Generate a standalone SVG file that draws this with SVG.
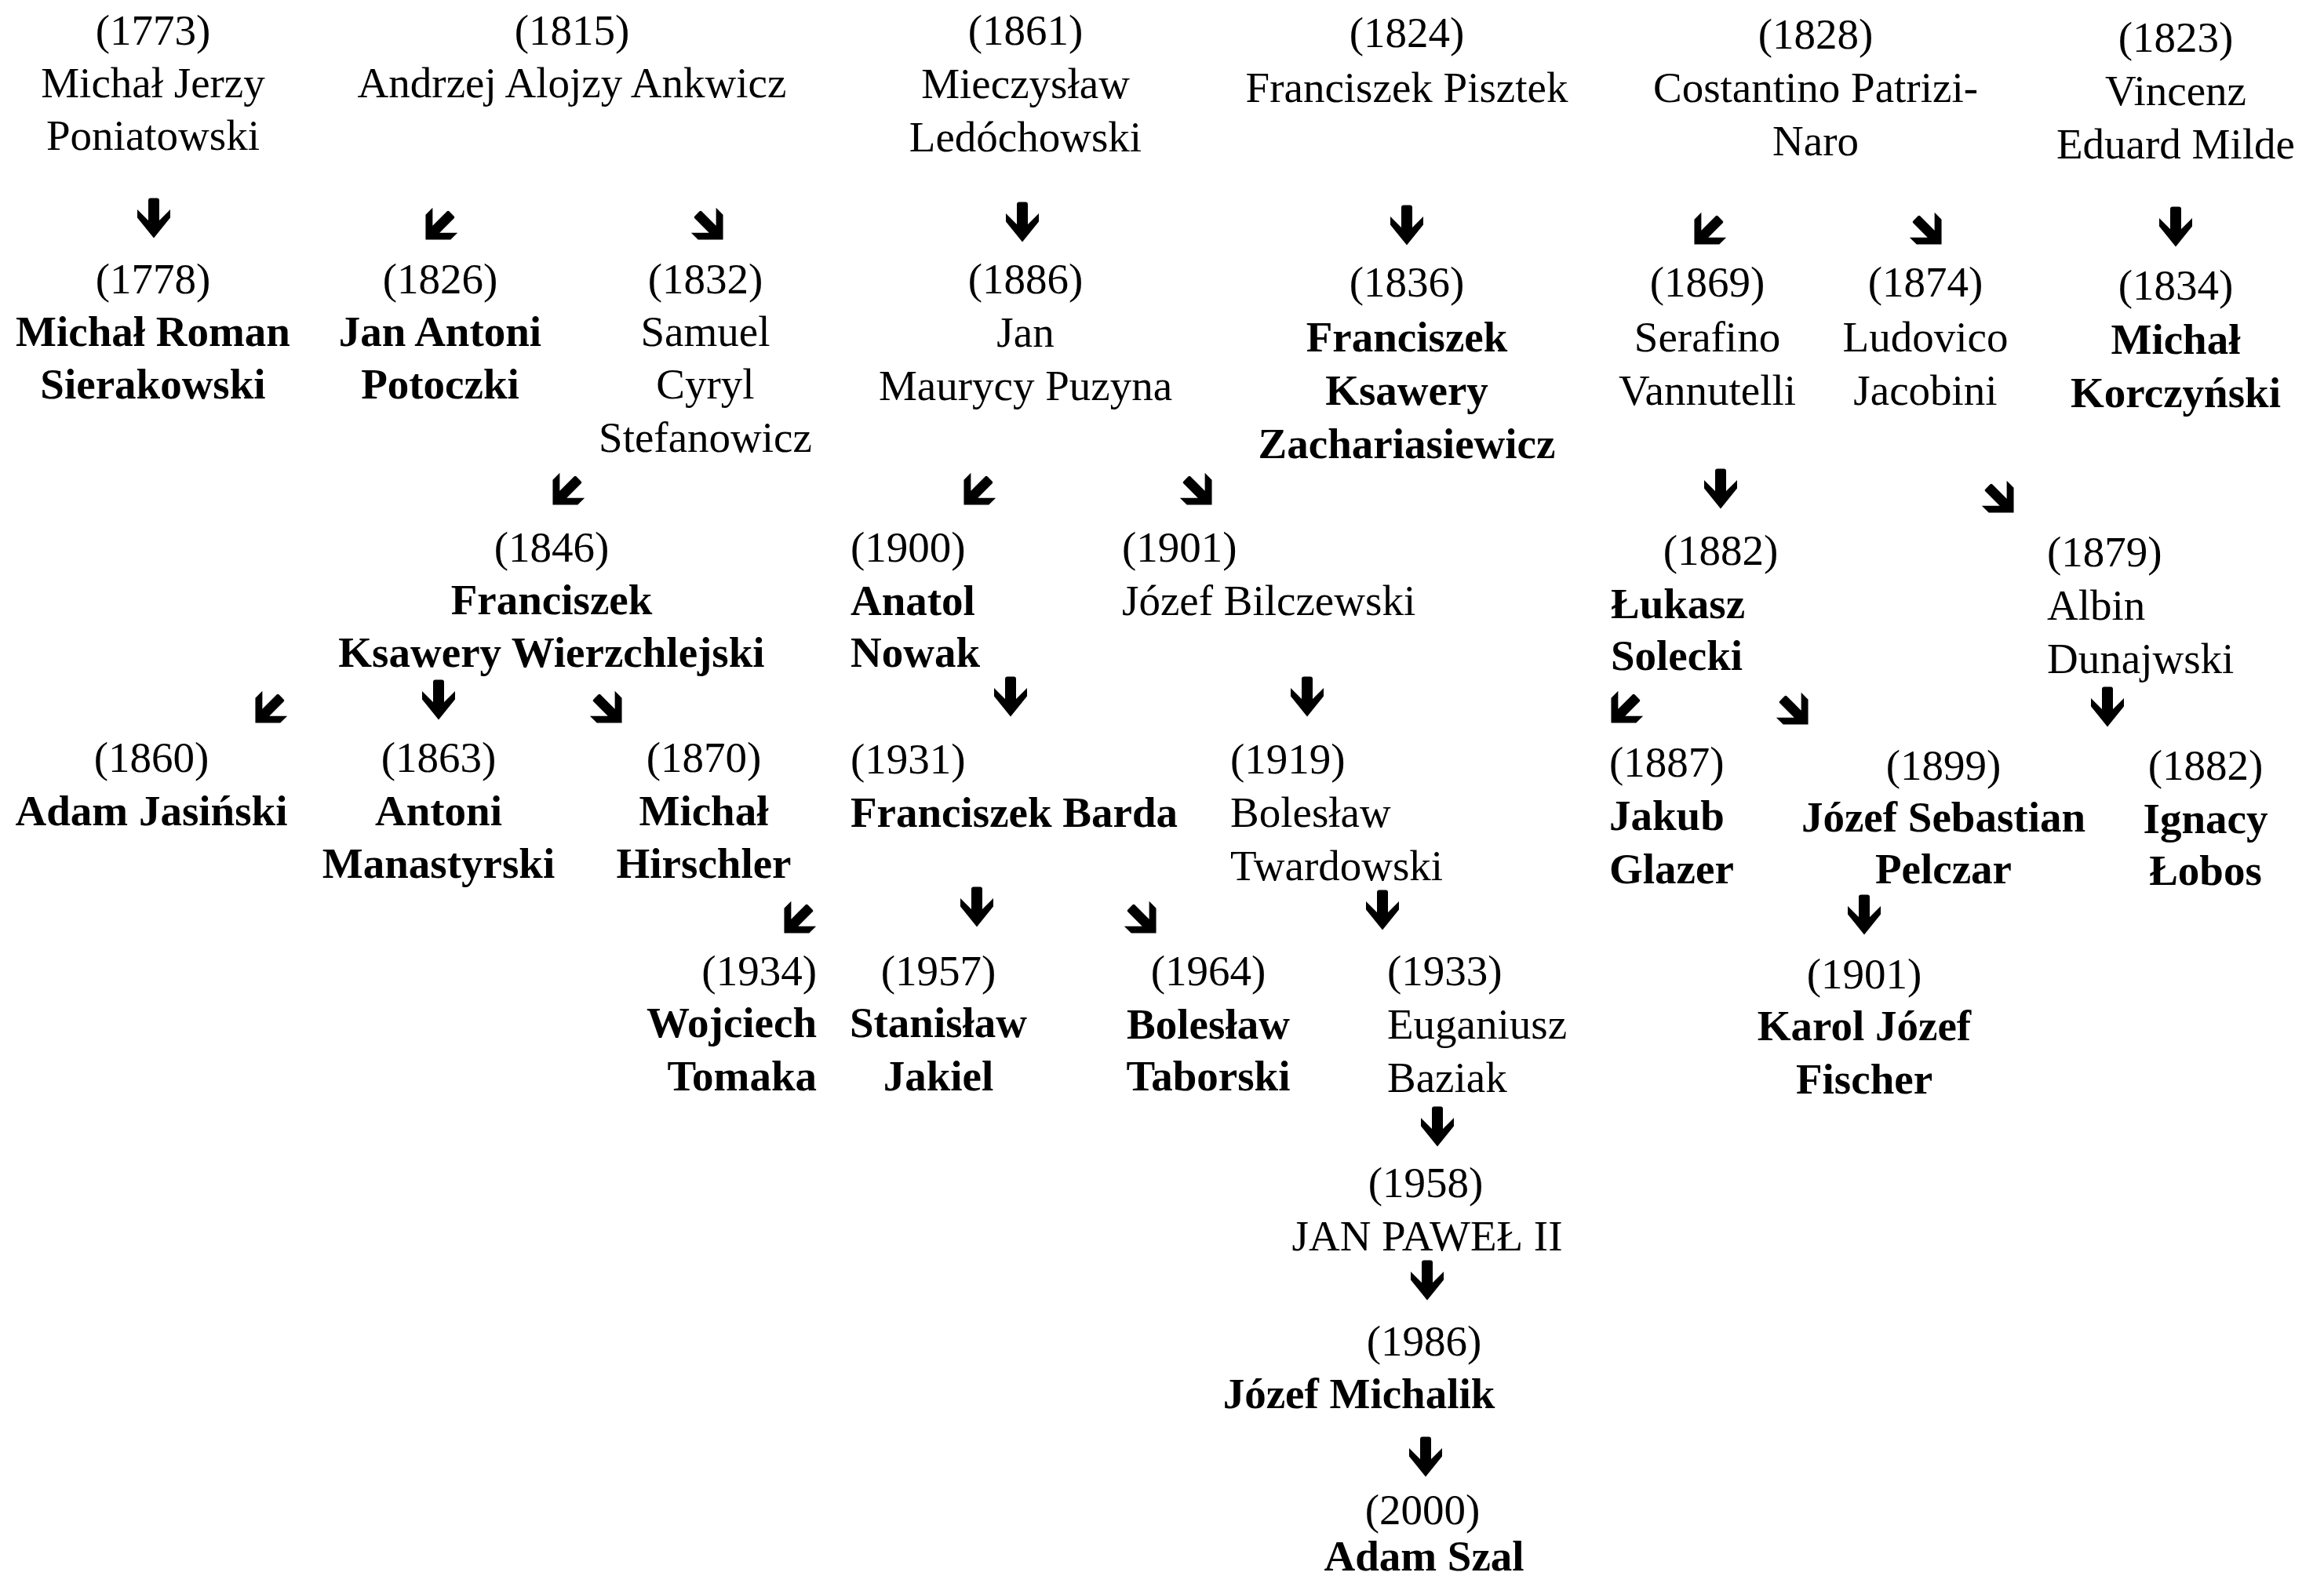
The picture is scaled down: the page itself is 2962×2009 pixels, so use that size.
<svg xmlns="http://www.w3.org/2000/svg" xmlns:xlink="http://www.w3.org/1999/xlink" width="2962" height="2009" viewBox="0 0 2962 2009">
<style>
text{font-family:"Liberation Serif","Times New Roman",serif;font-size:55px;fill:#000}
.b{font-weight:bold}
.m{text-anchor:middle}
.e{text-anchor:end}
</style>
<defs>
<path id="ad" d="M-7,-22.5 Q-7,-25.5 -4,-25.5 H4 Q7,-25.5 7,-22.5 V3 L21,-11 V-0.5 L0,25.5 L-21,-0.5 V-11 L-7,3 Z" fill="#000"/>
<path id="ag" d="M-7,-24 Q-7,-26 -5,-26 H5 Q7,-26 7,-24 V5 L25,-13 V1 L0,26 L-25,1 V-13 L-7,5 Z" fill="#000"/>
</defs>
<rect width="2962" height="2009" fill="#fff"/>

<g id="connectors">
<use xlink:href="#ad" transform="translate(196,278)"/>
<use xlink:href="#ad" transform="translate(559,892)"/>
<use xlink:href="#ad" transform="translate(1303,283)"/>
<use xlink:href="#ad" transform="translate(1793,287)"/>
<use xlink:href="#ad" transform="translate(2773,289)"/>
<use xlink:href="#ad" transform="translate(1288,888)"/>
<use xlink:href="#ad" transform="translate(1666,888)"/>
<use xlink:href="#ad" transform="translate(1245,1156)"/>
<use xlink:href="#ad" transform="translate(1762,1160)"/>
<use xlink:href="#ad" transform="translate(1832,1436)"/>
<use xlink:href="#ad" transform="translate(1819,1632)"/>
<use xlink:href="#ad" transform="translate(1817,1857)"/>
<use xlink:href="#ad" transform="translate(2193,623)"/>
<use xlink:href="#ad" transform="translate(2686,901)"/>
<use xlink:href="#ad" transform="translate(2376,1166)"/>
<use xlink:href="#ag" transform="translate(559,289) rotate(45) scale(0.9)"/>
<use xlink:href="#ag" transform="translate(721,627) rotate(45) scale(0.9)"/>
<use xlink:href="#ag" transform="translate(342,905) rotate(45) scale(0.9)"/>
<use xlink:href="#ag" transform="translate(1016,1173) rotate(45) scale(0.9)"/>
<use xlink:href="#ag" transform="translate(1245,627) rotate(45) scale(0.9)"/>
<use xlink:href="#ag" transform="translate(2176,295) rotate(45) scale(0.9)"/>
<use xlink:href="#ag" transform="translate(2070,905) rotate(45) scale(0.9)"/>
<use xlink:href="#ag" transform="translate(905,289) rotate(-45) scale(0.9)"/>
<use xlink:href="#ag" transform="translate(1528,627) rotate(-45) scale(0.9)"/>
<use xlink:href="#ag" transform="translate(776,905) rotate(-45) scale(0.9)"/>
<use xlink:href="#ag" transform="translate(1457,1173) rotate(-45) scale(0.9)"/>
<use xlink:href="#ag" transform="translate(2458,295) rotate(-45) scale(0.9)"/>
<use xlink:href="#ag" transform="translate(2550,637) rotate(-45) scale(0.9)"/>
<use xlink:href="#ag" transform="translate(2288,907) rotate(-45) scale(0.9)"/>
</g>

<g id="n1773"><text class="m" x="195" y="57">(1773)</text><text class="m" x="195" y="124">Michał Jerzy</text><text class="m" x="195" y="191">Poniatowski</text></g>
<g id="n1778"><text class="m" x="195" y="374">(1778)</text><text class="m b" x="195" y="441">Michał Roman</text><text class="m b" x="195" y="508">Sierakowski</text></g>
<g id="n1815"><text class="m" x="729" y="57">(1815)</text><text class="m" x="729" y="124">Andrzej Alojzy Ankwicz</text></g>
<g id="n1826"><text class="m" x="561" y="374">(1826)</text><text class="m b" x="561" y="441">Jan Antoni</text><text class="m b" x="561" y="508">Potoczki</text></g>
<g id="n1832"><text class="m" x="899" y="374">(1832)</text><text class="m" x="899" y="441">Samuel</text><text class="m" x="899" y="508">Cyryl</text><text class="m" x="899" y="576">Stefanowicz</text></g>
<g id="n1846"><text class="m" x="703" y="716">(1846)</text><text class="m b" x="703" y="783">Franciszek</text><text class="m b" x="703" y="850">Ksawery Wierzchlejski</text></g>
<g id="n1860"><text class="m" x="193" y="984">(1860)</text><text class="m b" x="193" y="1052">Adam Jasiński</text></g>
<g id="n1863"><text class="m" x="559" y="984">(1863)</text><text class="m b" x="559" y="1052">Antoni</text><text class="m b" x="559" y="1119">Manastyrski</text></g>
<g id="n1870"><text class="m" x="897" y="984">(1870)</text><text class="m b" x="897" y="1052">Michał</text><text class="m b" x="897" y="1119">Hirschler</text></g>
<g id="n1934"><text class="e" x="1041" y="1256">(1934)</text><text class="e b" x="1041" y="1322">Wojciech</text><text class="e b" x="1041" y="1390">Tomaka</text></g>

<g id="n1861"><text class="m" x="1307" y="57">(1861)</text><text class="m" x="1307" y="125">Mieczysław</text><text class="m" x="1307" y="193">Ledóchowski</text></g>
<g id="n1886"><text class="m" x="1307" y="374">(1886)</text><text class="m" x="1307" y="442">Jan</text><text class="m" x="1307" y="510">Maurycy Puzyna</text></g>
<g id="n1900"><text x="1084" y="716">(1900)</text><text class="b" x="1084" y="784">Anatol</text><text class="b" x="1084" y="850">Nowak</text></g>
<g id="n1901a"><text x="1430" y="716">(1901)</text><text x="1430" y="784">Józef Bilczewski</text></g>
<g id="n1931"><text x="1084" y="986">(1931)</text><text class="b" x="1084" y="1054">Franciszek Barda</text></g>
<g id="n1919"><text x="1568" y="986">(1919)</text><text x="1568" y="1054">Bolesław</text><text x="1568" y="1122">Twardowski</text></g>
<g id="n1957"><text class="m" x="1196" y="1256">(1957)</text><text class="m b" x="1196" y="1322">Stanisław</text><text class="m b" x="1196" y="1390">Jakiel</text></g>
<g id="n1964"><text class="m" x="1540" y="1256">(1964)</text><text class="m b" x="1540" y="1324">Bolesław</text><text class="m b" x="1540" y="1390">Taborski</text></g>
<g id="n1933"><text x="1768" y="1256">(1933)</text><text x="1768" y="1324">Euganiusz</text><text x="1768" y="1392">Baziak</text></g>
<g id="n1958"><text class="m" x="1817" y="1526">(1958)</text><text class="m" x="1819" y="1594">JAN PAWEŁ II</text></g>
<g id="n1986"><text class="m" x="1815" y="1728">(1986)</text><text class="m b" x="1732" y="1795">Józef Michalik</text></g>
<g id="n2000"><text class="m" x="1813" y="1943">(2000)</text><text class="m b" x="1815" y="2002">Adam Szal</text></g>

<g id="n1824"><text class="m" x="1793" y="60">(1824)</text><text class="m" x="1793" y="130">Franciszek Pisztek</text></g>
<g id="n1836"><text class="m" x="1793" y="378">(1836)</text><text class="m b" x="1793" y="448">Franciszek</text><text class="m b" x="1793" y="516">Ksawery</text><text class="m b" x="1793" y="584">Zachariasiewicz</text></g>

<g id="n1828"><text class="m" x="2314" y="62">(1828)</text><text class="m" x="2314" y="130">Costantino Patrizi-</text><text class="m" x="2314" y="198">Naro</text></g>
<g id="n1869"><text class="m" x="2176" y="378">(1869)</text><text class="m" x="2176" y="448">Serafino</text><text class="m" x="2176" y="516">Vannutelli</text></g>
<g id="n1874"><text class="m" x="2454" y="378">(1874)</text><text class="m" x="2454" y="448">Ludovico</text><text class="m" x="2454" y="516">Jacobini</text></g>
<g id="n1882a"><text class="m" x="2193" y="720">(1882)</text><text class="b" x="2053" y="788">Łukasz</text><text class="b" x="2053" y="854">Solecki</text></g>
<g id="n1879"><text x="2609" y="722">(1879)</text><text x="2609" y="790">Albin</text><text x="2609" y="858">Dunajwski</text></g>
<g id="n1887"><text x="2051" y="990">(1887)</text><text class="b" x="2051" y="1058">Jakub</text><text class="b" x="2051" y="1126">Glazer</text></g>
<g id="n1899"><text class="m" x="2477" y="994">(1899)</text><text class="m b" x="2477" y="1060">Józef Sebastian</text><text class="m b" x="2477" y="1126">Pelczar</text></g>
<g id="n1901b"><text class="m" x="2376" y="1260">(1901)</text><text class="m b" x="2376" y="1326">Karol Józef</text><text class="m b" x="2376" y="1394">Fischer</text></g>
<g id="n1882b"><text class="m" x="2811" y="994">(1882)</text><text class="m b" x="2811" y="1062">Ignacy</text><text class="m b" x="2811" y="1128">Łobos</text></g>

<g id="n1823"><text class="m" x="2773" y="66">(1823)</text><text class="m" x="2773" y="134">Vincenz</text><text class="m" x="2773" y="202">Eduard Milde</text></g>
<g id="n1834"><text class="m" x="2773" y="382">(1834)</text><text class="m b" x="2773" y="451">Michał</text><text class="m b" x="2773" y="519">Korczyński</text></g>
</svg>
